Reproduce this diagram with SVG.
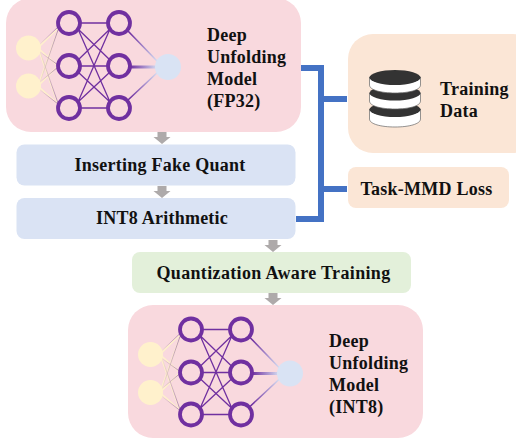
<svg xmlns="http://www.w3.org/2000/svg" width="516" height="440" viewBox="0 0 516 440">
<style>
text{font-family:"Liberation Serif","Times New Roman",serif;font-weight:700;font-size:18px;letter-spacing:.25px;fill:#111}
.pk{fill:#f9d9de}.bl{fill:#dae3f4}.gr{fill:#e3f0da}.or{fill:#fbe6d6}
.p{fill:none;stroke:#7030a0;stroke-width:3.8}
.e{stroke:#7030a0;stroke-width:1.3;fill:none}
.y{fill:#fff1cc}.o{fill:#d9e3f4}
.c{fill:none;stroke:#4472c4;stroke-width:6}
.a{fill:#aeaaaa}
.d{fill:#fff;stroke:#666;stroke-width:.7}.k{fill:#333}
</style>
<defs>
<linearGradient id="gy" gradientUnits="userSpaceOnUse" x1="38" y1="0" x2="60" y2="0"><stop offset="0" stop-color="#fff1cc"/><stop offset="1" stop-color="#7030a0"/></linearGradient>
<linearGradient id="gb" gradientUnits="userSpaceOnUse" x1="130" y1="0" x2="158" y2="0"><stop offset="0" stop-color="#7030a0"/><stop offset="1" stop-color="#d9e3f4"/></linearGradient>
<g id="net">
<g fill="none" stroke="#fff1cc" stroke-width="1.5">
<path d="M38 48L58 28M38 48L58 66M38 48L58 104M38 86L58 30M38 86L58 66M38 86L58 104"/>
</g>
<path d="M40 44L58 27M40 52L58 65M40 52L58 103M40 82L58 30M40 82L58 67M40 90L58 104" fill="none" stroke="url(#gy)" stroke-width="1" opacity=".6"/>
<path class="e" d="M80 23H108M80 66H108M80 108H108M78 29L110 60M78 29L110 102M78 60L110 29M78 72L110 102M78 102L110 29M78 102L110 72"/>
<path d="M128 31L158 62M128 100L158 72" fill="none" stroke="url(#gb)" stroke-width="1.6"/>
<path d="M128 67H156" fill="none" stroke="url(#gb)" stroke-width="3"/>
<circle class="y" cx="28.5" cy="48" r="12.5"/><circle class="y" cx="28.5" cy="86" r="12.5"/>
<circle class="p" cx="69" cy="23" r="11"/><circle class="p" cx="69" cy="66" r="11"/><circle class="p" cx="69" cy="108" r="11"/>
<circle class="p" cx="119" cy="23" r="11"/><circle class="p" cx="119" cy="66" r="11"/><circle class="p" cx="119" cy="108" r="11"/>
<circle class="o" cx="168" cy="67" r="13"/>
</g>
<path id="arr" d="M-4.500 0H4.500V5H8.500L0 12L-8.500 5H-4.500Z"/>
</defs>
<g id="connectors">
<path class="c" d="M300 68H321V219H296M321 99H347M321 189H347"/>
<use href="#arr" class="a" x="162" y="132"/>
<use href="#arr" class="a" x="162" y="186"/>
<use href="#arr" class="a" x="273" y="240"/>
<use href="#arr" class="a" x="273" y="293"/>
</g>
<g id="model-fp32">
<rect class="pk" x="6" y="-2" width="295" height="134" rx="25"/>
<use href="#net"/>
<text x="207" y="41">Deep</text><text x="207" y="63">Unfolding</text><text x="207" y="85">Model</text><text x="207" y="107">(FP32)</text>
</g>
<g id="fake-quant"><rect class="bl" x="16.500" y="144.500" width="279" height="41" rx="8"/><text x="160" y="171" text-anchor="middle">Inserting Fake Quant</text></g>
<g id="int8"><rect class="bl" x="16.500" y="198" width="279" height="41" rx="8"/><text x="162" y="224" text-anchor="middle">INT8 Arithmetic</text></g>
<g id="qat"><rect class="gr" x="132" y="252" width="279" height="41" rx="8"/><text x="273.500" y="279" text-anchor="middle" style="letter-spacing:.35px">Quantization Aware Training</text></g>
<g id="model-int8">
<rect class="pk" x="128" y="305" width="295" height="133" rx="25"/>
<use href="#net" x="122" y="306.500"/>
<text x="329" y="347">Deep</text><text x="329" y="369">Unfolding</text><text x="329" y="391">Model</text><text x="329" y="413">(INT8)</text>
</g>
<g id="training-data">
<rect class="or" x="348" y="34" width="190" height="119" rx="25"/>
<path class="d" d="M369.500 109V119C369.500 124 381 127 395 127S420.500 124 420.500 119V109Z"/>
<ellipse class="k" cx="395" cy="109.500" rx="25.500" ry="7.500"/>
<path class="d" d="M369.500 93V101C369.500 106 381 109 395 109S420.500 106 420.500 101V93Z"/>
<ellipse class="k" cx="395" cy="93" rx="25.500" ry="7.500"/>
<path class="d" d="M369.500 77V85C369.500 90 381 93 395 93S420.500 90 420.500 85V77Z"/>
<ellipse class="k" cx="395" cy="77.500" rx="25.500" ry="7.500"/>
<text x="440" y="95">Training</text><text x="440" y="117">Data</text>
</g>
<g id="task-mmd"><rect class="or" x="348" y="167" width="161" height="41" rx="8"/><text x="426.500" y="195" text-anchor="middle">Task-MMD Loss</text></g>
</svg>
